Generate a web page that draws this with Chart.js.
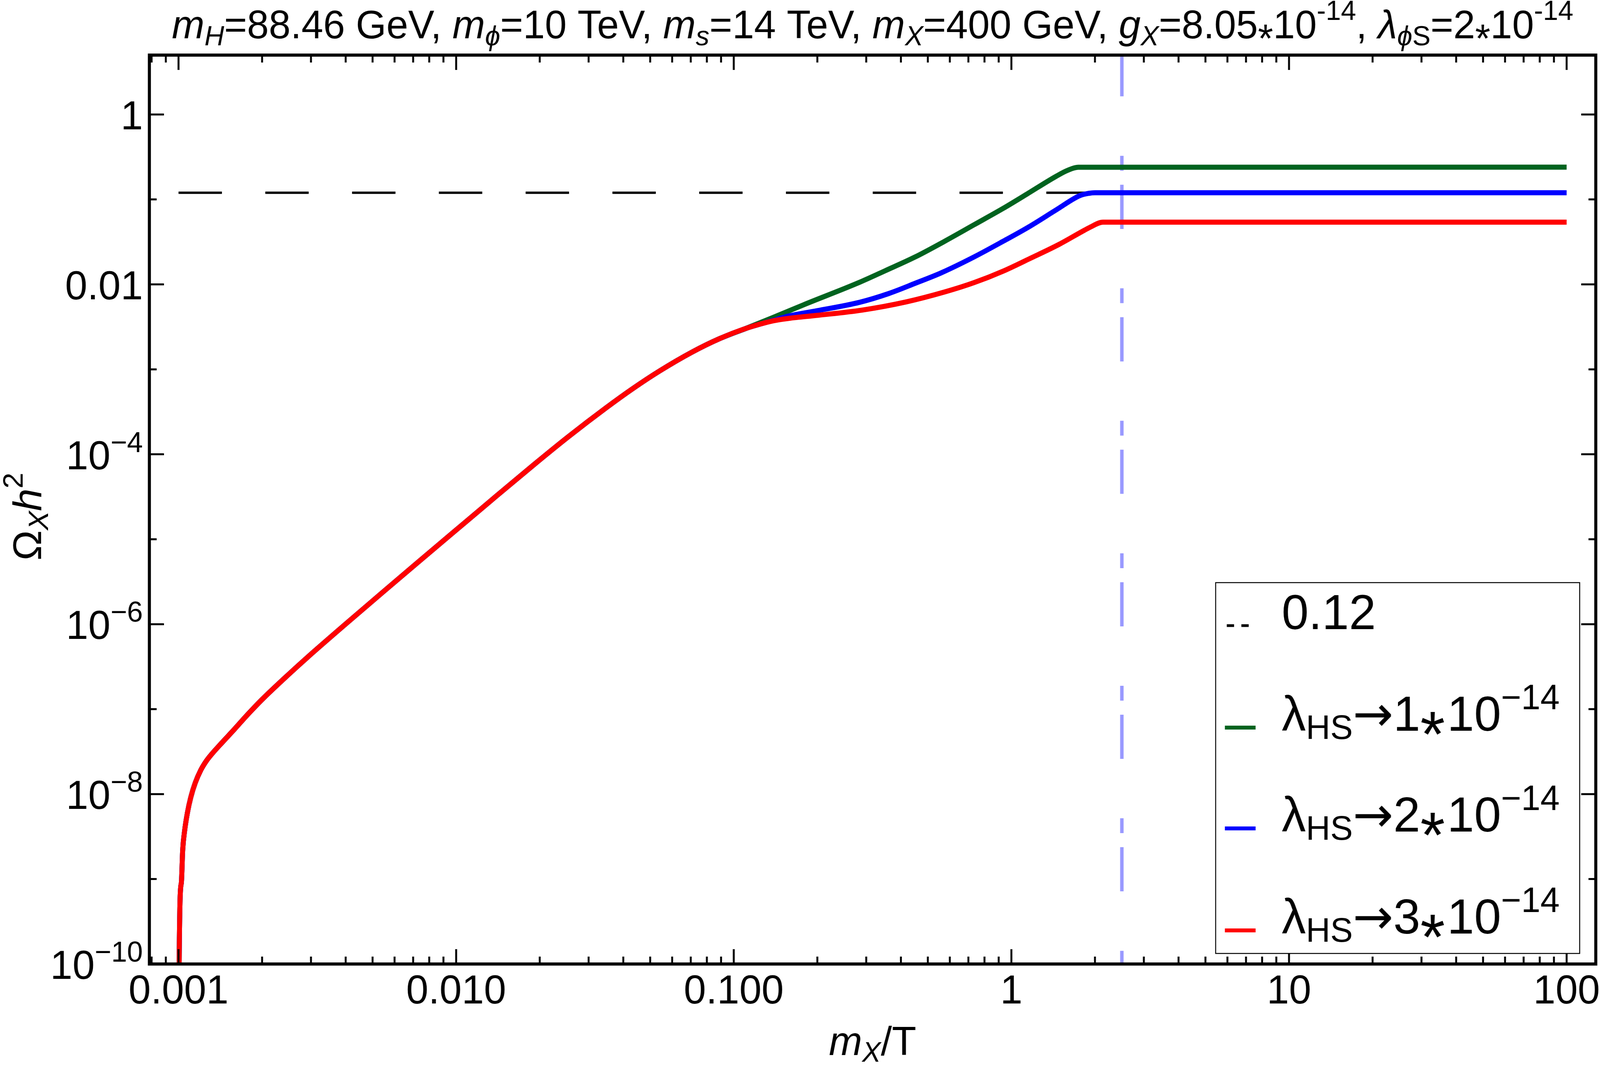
<!DOCTYPE html>
<html>
<head>
<meta charset="utf-8">
<script src="https://cdn.jsdelivr.net/npm/chart.js@4.4.0/dist/chart.umd.min.js"></script>
<style>
  html, body { margin: 0; padding: 0; background: #fff; overflow: hidden; }
  canvas { display: block; position: fixed; left: 0; top: 0; }
</style>
</head>
<body>
<canvas id="grafico" width="4167" height="2728"></canvas>
<script>
// Tramo común de las tres curvas (m_X/T , Omega h^2)
const sharedX = [0.0010045, 0.0010051, 0.0010233, 0.0010351, 0.001052, 0.0010765, 0.0011066, 0.0011482, 0.0012023,
  0.0012589, 0.0013243, 0.0014289, 0.0015812, 0.0017783, 0.0020, 0.0025, 0.002917, 0.0040, 0.00547, 0.007145,
  0.0100, 0.013366, 0.0191, 0.02541, 0.03459, 0.04325, 0.05408, 0.07079, 0.08831, 0.1107];
const sharedY = [1e-11, 1.0e-10, 8.91e-10, 2.19e-9, 3.72e-9, 6.03e-9, 9.12e-9, 1.35e-8, 1.91e-8,
  2.45e-8, 3.02e-8, 3.98e-8, 5.69e-8, 8.71e-8, 1.30e-7, 2.59e-7, 4.09e-7, 1.005e-6, 2.415e-6, 5.07e-6,
  1.285e-5, 2.864e-5, 7.59e-5, 1.618e-4, 3.50e-4, 5.92e-4, 9.57e-4, 1.596e-3, 2.275e-3, 3.034e-3];

// Ramas separadas
const greenX = [0.1384, 0.1782, 0.2831, 0.3524, 0.4498, 0.5741, 0.7328, 0.9333, 1.135, 1.449, 1.596, 1.74, 100];
const greenY = [4.07e-3, 5.74e-3, 1.054e-2, 1.455e-2, 2.10e-2, 3.21e-2, 5.02e-2, 7.83e-2, 0.1151, 0.1871, 0.2203, 0.239, 0.240];

const blueX = [0.1384, 0.1578, 0.1995, 0.2831, 0.3614, 0.4498, 0.5598, 0.7328, 0.9333, 1.164, 1.449, 1.762, 1.90, 2.0, 100];
const blueY = [3.76e-3, 4.25e-3, 4.90e-3, 6.14e-3, 7.80e-3, 1.028e-2, 1.371e-2, 2.099e-2, 3.214e-2, 4.82e-2, 7.52e-2, 0.1107, 0.118, 0.120, 0.120];

const redX = [0.1384, 0.1578, 0.2014, 0.2897, 0.4178, 0.5741, 0.7328, 0.9333, 1.164, 1.483, 1.816, 1.914, 2.14, 100];
const redY = [3.72e-3, 3.98e-3, 4.33e-3, 4.98e-3, 6.22e-3, 8.13e-3, 1.047e-2, 1.43e-2, 2.01e-2, 2.95e-2, 4.27e-2, 4.68e-2, 5.40e-2, 5.40e-2];

// Líneas de referencia
const relicX = [0.001, 100];
const relicY = [0.12, 0.12];
const markX = [2.5, 2.5];
const markY = [5.39, 1e-10];

// Ejes
const xMin = Math.pow(10, -3.105), xMax = Math.pow(10, 2.105);
const yMin = 1e-10, yMax = 5;
const xMajorTicks = [0.001, 0.01, 0.1, 1, 10, 100];
const xTickLabels = ['0.001', '0.010', '0.100', '1', '10', '100'];
const xMinorMult = [2, 3, 4, 5, 6, 7, 8, 9];
const yMajorTicks = [1, 1e-2, 1e-4, 1e-6, 1e-8, 1e-10];
const yTickBase = ['1', '0.01', '10', '10', '10', '10'];
const yTickExp = ['', '', '\u22124', '\u22126', '\u22128', '\u221210'];
const yMinorTicks = [0.1, 1e-3, 1e-5, 1e-7, 1e-9];

// Leyenda
const legendValues = ['1', '2', '3'];
const colors = { green: '#00631f', blue: '#0000ff', red: '#ff0000', mark: '#9999ff' };

const FONT = '"Liberation Sans", Arial, sans-serif';

function pts(xs, ys) {
  return xs.map((v, i) => ({ x: v, y: ys[i] }));
}

function fontOf(r) {
  return (r.it ? 'italic ' : '') + r.size + 'px ' + (r.fam || FONT);
}
function runAdvance(ctx, r) {
  ctx.font = fontOf(r);
  return ctx.measureText(r.t).width + (r.padL || 0) + (r.padR || 0);
}
function drawRuns(ctx, runs, x, y, align) {
  let w = 0;
  runs.forEach(r => { w += runAdvance(ctx, r); });
  let cx = align === 'center' ? x - w / 2 : (align === 'right' ? x - w : x);
  ctx.textAlign = 'left';
  ctx.textBaseline = 'alphabetic';
  runs.forEach(r => {
    ctx.font = fontOf(r);
    ctx.fillText(r.t, cx + (r.padL || 0), y + (r.dy || 0));
    cx += runAdvance(ctx, r);
  });
}

// Textos con subíndices / superíndices
const S = 102, s = 71;
const titleRuns = [
  { t: 'm', size: S, it: true }, { t: 'H', size: s, it: true, dy: 18 },
  { t: '=88.46 GeV, ', size: S },
  { t: 'm', size: S, it: true }, { t: '\u03d5', size: s, it: true, dy: 18 },
  { t: '=10 TeV, ', size: S },
  { t: 'm', size: S, it: true }, { t: 's', size: s, it: true, dy: 18 },
  { t: '=14 TeV, ', size: S },
  { t: 'm', size: S, it: true }, { t: 'X', size: s, it: true, dy: 18 },
  { t: '=400 GeV, ', size: S },
  { t: 'g', size: S, it: true }, { t: 'X', size: s, it: true, dy: 18 },
  { t: '=8.05', size: S }, { t: '*', size: S, dy: 35 }, { t: '10', size: S }, { t: '-14', size: s, dy: -47 },
  { t: ', ', size: S },
  { t: '\u03bb', size: S, it: true }, { t: '\u03d5', size: s, it: true, dy: 18 }, { t: 'S', size: s, dy: 18 },
  { t: '=2', size: S }, { t: '*', size: S, dy: 35 }, { t: '10', size: S }, { t: '-14', size: s, dy: -47 }
];
const yTitleRuns = [
  { t: '\u03a9', size: 104 }, { t: 'X', size: 73, it: true, dy: 18 },
  { t: 'h', size: 104, it: true }, { t: '2', size: 73, dy: -48 }
];
const xTitleRuns = [
  { t: 'm', size: 104, it: true }, { t: 'X', size: 73, it: true, dy: 17 },
  { t: '/T', size: 104 }
];

const framePlugin = {
  id: 'framePlugin',
  afterDraw(chart) {
    const { ctx, chartArea: a, scales: { x, y } } = chart;
    ctx.save();
    ctx.fillStyle = '#000';
    ctx.strokeStyle = '#000';

    // ticks hacia adentro en los cuatro lados
    ctx.lineWidth = 5;
    ctx.setLineDash([]);
    const vTick = (px, len) => {
      ctx.beginPath();
      ctx.moveTo(px, a.bottom); ctx.lineTo(px, a.bottom - len);
      ctx.moveTo(px, a.top); ctx.lineTo(px, a.top + len);
      ctx.stroke();
    };
    const hTick = (py, len) => {
      ctx.beginPath();
      ctx.moveTo(a.left, py); ctx.lineTo(a.left + len, py);
      ctx.moveTo(a.right, py); ctx.lineTo(a.right - len, py);
      ctx.stroke();
    };
    xMajorTicks.forEach(v => vTick(x.getPixelForValue(v), 38));
    for (let e = -4; e <= 2; e++) {
      xMinorMult.forEach(m => {
        const v = m * Math.pow(10, e);
        if (v > xMin && v < xMax) vTick(x.getPixelForValue(v), 19);
      });
    }
    yMajorTicks.forEach(v => hTick(y.getPixelForValue(v), 38));
    yMinorTicks.forEach(v => hTick(y.getPixelForValue(v), 19));

    // marco
    ctx.lineWidth = 8;
    ctx.strokeRect(a.left, a.top, a.right - a.left, a.bottom - a.top);

    // etiquetas eje x
    ctx.font = '104px ' + FONT;
    ctx.textAlign = 'center';
    ctx.textBaseline = 'alphabetic';
    xMajorTicks.forEach((v, i) => {
      ctx.fillText(xTickLabels[i], x.getPixelForValue(v), a.bottom + 101);
    });

    // etiquetas eje y
    yMajorTicks.forEach((v, i) => {
      const py = y.getPixelForValue(v) + 38;
      const runs = [{ t: yTickBase[i], size: 104 }];
      if (yTickExp[i]) runs.push({ t: yTickExp[i], size: 74, dy: -44 });
      drawRuns(ctx, runs, a.left - 17, py, 'right');
    });

    // títulos
    const cx = (a.left + a.right) / 2;
    drawRuns(ctx, titleRuns, cx, 98, 'center');
    drawRuns(ctx, xTitleRuns, cx, 2700, 'center');
    ctx.save();
    ctx.translate(107, (a.top + a.bottom) / 2 + 18);
    ctx.rotate(-Math.PI / 2);
    drawRuns(ctx, yTitleRuns, 0, 0, 'center');
    ctx.restore();

    // leyenda
    const bx = 3166, by = 1491, bw = 948, bh = 949;
    ctx.fillStyle = '#fff';
    ctx.fillRect(bx, by, bw, bh);
    ctx.lineWidth = 2.5;
    ctx.strokeStyle = '#000';
    ctx.strokeRect(bx, by, bw, bh);
    ctx.fillStyle = '#000';

    const baselines = [1610, 1870, 2128, 2389];
    ctx.lineWidth = 7;
    ctx.setLineDash([19, 19]);
    ctx.beginPath();
    ctx.moveTo(3195, baselines[0] - 9);
    ctx.lineTo(3252, baselines[0] - 9);
    ctx.stroke();
    ctx.setLineDash([]);
    drawRuns(ctx, [{ t: '0.12', size: 126 }], 3338, baselines[0], 'left');

    const legendColors = [colors.green, colors.blue, colors.red];
    legendValues.forEach((val, i) => {
      const yb = baselines[i + 1];
      ctx.strokeStyle = legendColors[i];
      ctx.lineWidth = 10;
      ctx.beginPath();
      ctx.moveTo(3190, yb - 8);
      ctx.lineTo(3270, yb - 8);
      ctx.stroke();
      drawRuns(ctx, [
        { t: '\u03bb', size: 126 }, { t: 'HS', size: 88, dy: 21 },
        { t: '\u2192', size: 126, fam: '"DejaVu Sans", sans-serif' },
        { t: val, size: 126 }, { t: '*', size: 165, dy: 66, padR: 6 }, { t: '10', size: 126 },
        { t: '\u221214', size: 90, dy: -55 }
      ], 3338, yb, 'left');
    });
    ctx.restore();
  }
};

const lineBase = {
  pointRadius: 0,
  pointHoverRadius: 0,
  fill: false,
  borderCapStyle: 'butt',
  borderJoinStyle: 'round',
  cubicInterpolationMode: 'monotone'
};

const canvas = document.getElementById('grafico');
const grafico = new Chart(canvas, {
  type: 'line',
  data: {
    datasets: [
      Object.assign({}, lineBase, { label: 'red', data: pts(sharedX.concat(redX), sharedY.concat(redY)), borderColor: colors.red, borderWidth: 13, order: 0 }),
      Object.assign({}, lineBase, { label: 'blue', data: pts(sharedX.concat(blueX), sharedY.concat(blueY)), borderColor: colors.blue, borderWidth: 13, order: 1 }),
      Object.assign({}, lineBase, { label: 'green', data: pts(sharedX.concat(greenX), sharedY.concat(greenY)), borderColor: colors.green, borderWidth: 13, order: 2 }),
      Object.assign({}, lineBase, { label: '0.12', data: pts(relicX, relicY), borderColor: '#000', borderWidth: 6, borderDash: [113, 113], order: 3 }),
      Object.assign({}, lineBase, { label: 'mark', data: pts(markX, markY), borderColor: colors.mark, borderWidth: 9, borderDash: [113, 152, 38, 36], order: 4 })
    ]
  },
  options: {
    responsive: false,
    devicePixelRatio: 1,
    animation: false,
    layout: { padding: { left: 0, right: 11, top: 141, bottom: 0 } },
    plugins: { legend: { display: false }, tooltip: { enabled: false }, title: { display: false } },
    scales: {
      x: {
        type: 'logarithmic', min: xMin, max: xMax,
        grid: { display: false }, border: { display: false },
        ticks: { display: false },
        afterFit(scale) { scale.height = 261; }
      },
      y: {
        type: 'logarithmic', min: yMin, max: yMax,
        grid: { display: false }, border: { display: false },
        ticks: { display: false },
        afterFit(scale) { scale.width = 389; }
      }
    }
  },
  plugins: [framePlugin]
});

// ajustar el lienzo a la ventana visible
canvas.style.width = '100vw';
canvas.style.height = '100vh';
</script>
</body>
</html>
